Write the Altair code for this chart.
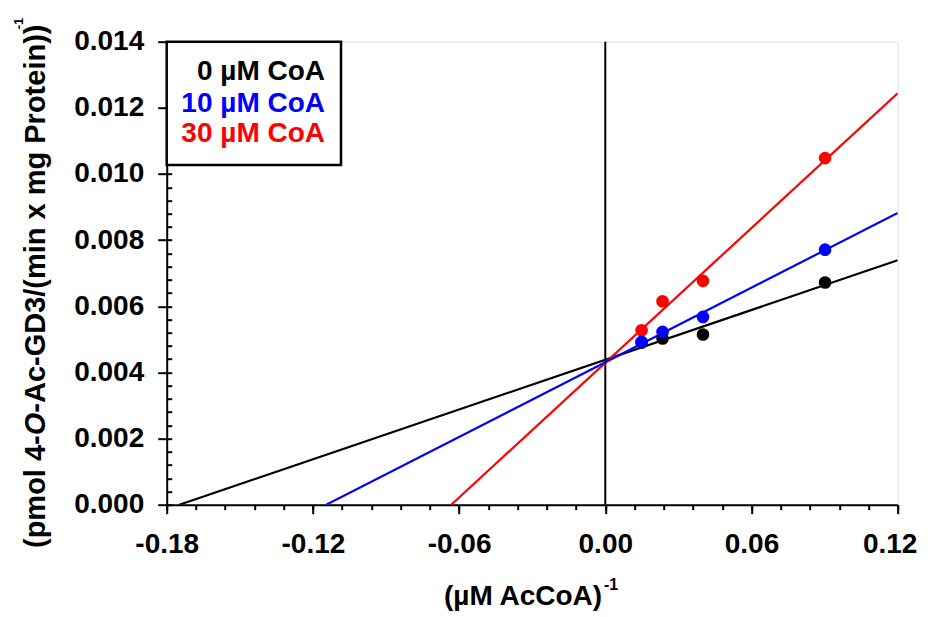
import altair as alt
import pandas as pd

FONT = "Liberation Sans, Arial, Helvetica, sans-serif"

# ---- data ----
series = ["0 µM CoA", "10 µM CoA", "30 µM CoA"]
colors = ["#000000", "#0000FF", "#FF0000"]
inv_accoa = [0.0149, 0.0235, 0.0401, 0.0902]
rate_0 = [0.00490, 0.005024, 0.005145, 0.006719]
rate_10 = [0.004921, 0.005224, 0.005677, 0.007711]
rate_30 = [0.005275, 0.006153, 0.006767, 0.01048]
# fitted line end points (x-intercept, right edge)
line_x_0 = [-0.1748, 0.12]
line_y_0 = [0.0, 0.00739]
line_x_10 = [-0.1145, 0.12]
line_y_10 = [0.0, 0.00882]
line_x_30 = [-0.0632, 0.12]
line_y_30 = [0.0, 0.01244]

x_major = [-0.18, -0.12, -0.06, 0.0, 0.06, 0.12]
x_minor = [round(-0.18 + 0.012 * i, 3) for i in range(26)]
y_major = [0.0, 0.002, 0.004, 0.006, 0.008, 0.010, 0.012, 0.014]
y_minor = [round(0.0004 * i, 4) for i in range(36)]

XDOM = [-0.18, 0.12]
YDOM = [0.0, 0.014]

W, H = 731, 463

xs = alt.Scale(domain=XDOM, nice=False, zero=False)
ys = alt.Scale(domain=YDOM, nice=False, zero=False)

X_AXIS = alt.Axis(values=x_major, format=".2f", orient="bottom", title=None,
                  labelExpr="replace(datum.label, '\u2212', '-')",
                  labelOffset={"condition": {"test": "datum.value >= 0.119", "value": -8}, "value": 0},
                  tickSize=9, tickWidth=2, tickColor="black", domainColor="black",
                  domainWidth=2, labelFont=FONT, labelFontSize=28, labelFontWeight="bold",
                  labelColor="black", labelPadding=17, grid=False, labelFlush=False)
Y_AXIS = alt.Axis(values=y_major, format=".3f", orient="left", title=None,
                  tickSize=9, tickWidth=2, tickColor="black", domainColor="black",
                  domainWidth=2, labelFont=FONT, labelFontSize=28, labelFontWeight="bold",
                  labelColor="black", labelPadding=14, grid=False)

pts = {"0 µM CoA": rate_0, "10 µM CoA": rate_10, "30 µM CoA": rate_30}
lines = {"0 µM CoA": (line_x_0, line_y_0), "10 µM CoA": (line_x_10, line_y_10),
         "30 µM CoA": (line_x_30, line_y_30)}

zero_df = pd.DataFrame({"x": [0.0], "y": [YDOM[0]], "y2": [YDOM[1]]})
data_layers = [
    alt.Chart(zero_df).mark_rule(color="black", strokeWidth=2).encode(
        x=alt.X("x:Q", scale=xs, axis=X_AXIS),
        y=alt.Y("y:Q", scale=ys, axis=Y_AXIS),
        y2="y2:Q",
    )
]
order = ["0 µM CoA", "30 µM CoA", "10 µM CoA"]
for s in order:
    c = colors[series.index(s)]
    lx, ly = lines[s]
    ldf = pd.DataFrame({"x": lx, "y": ly})
    data_layers.append(
        alt.Chart(ldf).mark_line(color=c, strokeWidth=2.2, clip=True).encode(
            x=alt.X("x:Q", scale=xs, axis=X_AXIS),
            y=alt.Y("y:Q", scale=ys, axis=Y_AXIS),
        )
    )
for s in order:
    c = colors[series.index(s)]
    pdf = pd.DataFrame({"x": inv_accoa, "y": pts[s]})
    data_layers.append(
        alt.Chart(pdf).mark_circle(color=c, size=160, opacity=1).encode(
            x=alt.X("x:Q", scale=xs, axis=X_AXIS),
            y=alt.Y("y:Q", scale=ys, axis=Y_AXIS),
        )
    )

main = alt.layer(*data_layers)

dummy = pd.DataFrame({"x": [0.0], "y": [0.0]})
minor_x = alt.Chart(dummy).mark_point(opacity=0).encode(
    x=alt.X("x:Q", scale=alt.Scale(domain=XDOM, nice=False, zero=False),
            axis=alt.Axis(values=x_minor, orient="bottom", labels=False, domain=False,
                          title=None, tickSize=5, tickWidth=2, tickColor="black", grid=False))
)
minor_y = alt.Chart(dummy).mark_point(opacity=0).encode(
    y=alt.Y("y:Q", scale=alt.Scale(domain=YDOM, nice=False, zero=False),
            axis=alt.Axis(values=y_minor, orient="left", labels=False, domain=False,
                          title=None, tickSize=5, tickWidth=2, tickColor="black",
                          offset=-5, grid=False))
)

one = pd.DataFrame({"a": [0]})

legend_box = alt.Chart(one).mark_rect(fill="white", stroke="black", strokeWidth=2.5).encode(
    x=alt.value(0), x2=alt.value(174.3), y=alt.value(0), y2=alt.value(123.3)
)
legend_y = [38.6, 70.0, 100.6]
legend_texts = []
for s, c, yy in zip(series, colors, legend_y):
    legend_texts.append(
        alt.Chart(one).mark_text(text=s, font=FONT, fontSize=28, fontWeight="bold",
                                 color=c, align="right", baseline="alphabetic").encode(
            x=alt.value(158.3), y=alt.value(yy))
    )

def txt(t, x, y, size, angle=0, style="normal", align="left"):
    kw = dict(text=t, font=FONT, fontSize=size, fontWeight="bold", color="black",
              align=align, baseline="alphabetic", fontStyle=style)
    if angle:
        kw["angle"] = angle
    return alt.Chart(one).mark_text(**kw).encode(x=alt.value(x), y=alt.value(y))

yfs = 29
ybx = -121.7
y0 = 506.3
seg1 = "(pmol 4-"
seg2 = "O"
seg3 = "-Ac-GD3/(min x mg Protein))"
y1 = y0 - 3.889 * yfs
y2 = y1 - 0.778 * yfs
y3 = y2 - 13.39 * yfs
titles = [
    txt("(µM AcCoA)", 356.3, 563.3, 28, align="center"),
    txt("-1", 437.3, 548.3, 16),
    txt(seg1, ybx, y0, yfs, angle=270),
    txt(seg2, ybx, y1, yfs, angle=270, style="italic"),
    txt(seg3, ybx, y2, yfs, angle=270),
    txt("-1", ybx - 22, y3 + 5, 13, angle=270),
]

chart = alt.layer(main, minor_x, minor_y, legend_box, *legend_texts, *titles).resolve_scale(
    x="independent", y="independent"
).properties(
    width=W, height=H,
    autosize=alt.AutoSizeParams(type="none"),
    padding={"left": 158.7, "top": 33.7, "right": 24, "bottom": 112},
).configure_view(stroke="black", strokeWidth=2.5).configure(background="white")

chart.save("out.html", embed_options={"renderer": "svg", "actions": False})
